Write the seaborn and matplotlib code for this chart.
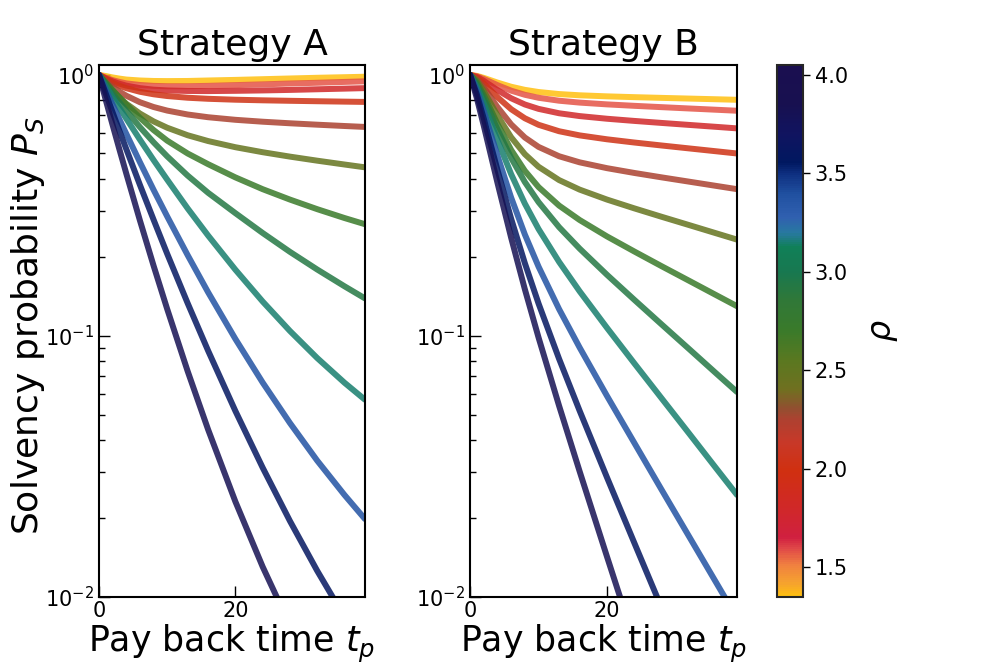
import numpy as np
import pandas as pd
import matplotlib
matplotlib.use('Agg')
import matplotlib.pyplot as plt
from matplotlib.colors import LinearSegmentedColormap, Normalize
from matplotlib.cm import ScalarMappable
import seaborn as sns

sns.set_style('ticks', {'xtick.direction': 'in', 'ytick.direction': 'in'})
plt.rcParams['font.family'] = ['DejaVu Sans']
for k in ['text.color', 'axes.labelcolor', 'xtick.color', 'ytick.color']:
    plt.rcParams[k] = 'black'

# ── data ─────────────────────────────────────────────────────────────────────
t_grid = [0, 1, 2, 3, 4, 6, 8, 10, 13, 16, 20, 24, 28, 32, 36, 39]
rho_vals = [1.35, 1.575, 1.8, 2.025, 2.25, 2.475, 2.7, 2.925, 3.15, 3.375, 3.6, 3.825]

ps_a = [
    [1.0, 0.99, 0.978, 0.968, 0.96, 0.952, 0.948, 0.947, 0.948, 0.952, 0.957, 0.963, 0.969, 0.975, 0.98, 0.984],
    [1.0, 0.975, 0.955, 0.94, 0.928, 0.915, 0.908, 0.905, 0.905, 0.908, 0.914, 0.92, 0.927, 0.933, 0.94, 0.945],
    [1.0, 0.97, 0.945, 0.925, 0.91, 0.89, 0.878, 0.872, 0.868, 0.867, 0.869, 0.872, 0.876, 0.881, 0.886, 0.89],
    [1.0, 0.9626, 0.9329, 0.909, 0.8897, 0.8618, 0.8429, 0.83, 0.8176, 0.81, 0.8035, 0.7992, 0.7958, 0.7928, 0.79, 0.788],
    [1.0, 0.9444, 0.8994, 0.8625, 0.8324, 0.786, 0.7535, 0.73, 0.7053, 0.6885, 0.673, 0.6618, 0.6527, 0.6446, 0.6372, 0.632],
    [1.0, 0.927, 0.8675, 0.818, 0.776, 0.7113, 0.6638, 0.6276, 0.5873, 0.558, 0.5285, 0.5057, 0.4864, 0.4693, 0.4537, 0.4426],
    [1.0, 0.935, 0.875, 0.82, 0.77, 0.685, 0.615, 0.56, 0.50, 0.455, 0.405, 0.365, 0.333, 0.306, 0.283, 0.268],
    [1.0, 0.92, 0.849, 0.785, 0.728, 0.631, 0.552, 0.4875, 0.4115, 0.3535, 0.2954, 0.248, 0.21, 0.1797, 0.155, 0.1393],
    [1.0, 0.906, 0.822, 0.747, 0.68, 0.565, 0.472, 0.397, 0.308, 0.2425, 0.1794, 0.1355, 0.1045, 0.0823, 0.0662, 0.057],
    [1.0, 0.876, 0.769, 0.675, 0.595, 0.463, 0.363, 0.287, 0.204, 0.147, 0.0974, 0.0663, 0.0464, 0.0333, 0.0246, 0.0199],
    [1.0, 0.847, 0.718, 0.61, 0.52, 0.379, 0.279, 0.2064, 0.1335, 0.0878, 0.0516, 0.0313, 0.01955, 0.0126, 0.00838, 0.0063],
    [1.0, 0.80, 0.642, 0.5176, 0.419, 0.277, 0.186, 0.1268, 0.0733, 0.0438, 0.0232, 0.01306, 0.00779, 0.00493, 0.0033, 0.00255],
]

ps_b = [
    [1.0, 0.9914, 0.9742, 0.9542, 0.9345, 0.9009, 0.8766, 0.86, 0.8446, 0.8355, 0.8277, 0.8218, 0.8166, 0.8116, 0.8067, 0.8029],
    [1.0, 0.9881, 0.9653, 0.9392, 0.9137, 0.8703, 0.8391, 0.8173, 0.7964, 0.7833, 0.7711, 0.7613, 0.7524, 0.7437, 0.7353, 0.729],
    [1.0, 0.9823, 0.9489, 0.9111, 0.8744, 0.8137, 0.7704, 0.7411, 0.713, 0.6955, 0.6793, 0.6664, 0.6546, 0.6433, 0.6323, 0.624],
    [1.0, 0.9741, 0.926, 0.8721, 0.8214, 0.7389, 0.6821, 0.644, 0.6085, 0.5866, 0.5667, 0.5508, 0.5365, 0.5229, 0.5097, 0.50],
    [1.0, 0.9627, 0.8948, 0.8208, 0.7527, 0.6462, 0.5757, 0.5299, 0.488, 0.4625, 0.4393, 0.4211, 0.405, 0.39, 0.3755, 0.365],
    [1.0, 0.95, 0.8662, 0.7781, 0.6985, 0.5767, 0.497, 0.4447, 0.3955, 0.3636, 0.333, 0.3081, 0.286, 0.2659, 0.2471, 0.2339],
    [1.0, 0.9349, 0.8367, 0.737, 0.6486, 0.5157, 0.4291, 0.3718, 0.3158, 0.2781, 0.2406, 0.2106, 0.1849, 0.1627, 0.1431, 0.13],
    [1.0, 0.9188, 0.8127, 0.7088, 0.6181, 0.4805, 0.3886, 0.3256, 0.2611, 0.2161, 0.1715, 0.1375, 0.1106, 0.0891, 0.0717, 0.061],
    [1.0, 0.8975, 0.7751, 0.6603, 0.5619, 0.4165, 0.3213, 0.2568, 0.1922, 0.1483, 0.1074, 0.0785, 0.0576, 0.0423, 0.031, 0.0246],
    [1.0, 0.8713, 0.727, 0.5971, 0.49, 0.3386, 0.2447, 0.1843, 0.1267, 0.0903, 0.0589, 0.0389, 0.0257, 0.01704, 0.0113, 0.0083],
    [1.0, 0.8402, 0.6796, 0.5421, 0.4321, 0.281, 0.19, 0.1331, 0.0817, 0.0517, 0.0287, 0.0161, 0.00906, 0.0051, 0.00287, 0.00187],
    [1.0, 0.8108, 0.6376, 0.4961, 0.3857, 0.2375, 0.1509, 0.0986, 0.054, 0.0303, 0.01427, 0.00677, 0.00322, 0.00153, 0.00073, 0.00042],
]

titles = ['Strategy A', 'Strategy B']
cbar_ticks = [1.5, 2.0, 2.5, 3.0, 3.5, 4.0]
rho_min, rho_max = 1.35, 4.05

# colour map (value -> colour)
cmap_stops = [(1.35, '#FFC010'), (1.42, '#F5A030'), (1.51, '#F08040'), (1.59, '#E04848'),
              (1.65, '#D02040'), (1.80, '#D02828'), (1.99, '#D03010'), (2.13, '#C83828'),
              (2.24, '#B04030'), (2.31, '#905030'), (2.40, '#707020'), (2.55, '#5A7820'),
              (2.70, '#3A7A2A'), (2.86, '#307838'), (3.00, '#187850'), (3.13, '#108058'),
              (3.20, '#2878A0'), (3.28, '#3060B0'), (3.40, '#2050A0'), (3.50, '#0E2F80'),
              (3.56, '#001860'), (3.70, '#101460'), (3.86, '#181050'), (4.05, '#1A0F50')]

cmap = LinearSegmentedColormap.from_list(
    'rho', [((v - rho_min) / (rho_max - rho_min), c) for v, c in cmap_stops])
norm = Normalize(rho_min, rho_max)


def to_long(ps):
    rows = []
    for rho, curve in zip(rho_vals, ps):
        for t, p in zip(t_grid, curve):
            rows.append((t, p, rho))
    return pd.DataFrame(rows, columns=['t', 'P', 'rho'])


fig = plt.figure(figsize=(9.96, 6.64), dpi=100)
ax_a = fig.add_axes([0.0994, 0.1009, 0.267, 0.801])
ax_b = fig.add_axes([0.472, 0.1009, 0.268, 0.801])
cax = fig.add_axes([0.780, 0.1009, 0.026, 0.801])

for ax, ps, title in zip([ax_a, ax_b], [ps_a, ps_b], titles):
    sns.lineplot(data=to_long(ps), x='t', y='P', hue='rho', palette=cmap, hue_norm=norm,
                 linewidth=4.3, alpha=0.85, legend=False, ax=ax)
    ax.set_yscale('log')
    ax.set_ylim(0.01, 1.09)
    ax.set_xlim(0, 39)
    ax.set_xticks([0, 20])
    ax.set_title(title, fontsize=26, pad=7)
    ax.set_xlabel(r'Pay back time $t_p$', fontsize=25, labelpad=1)
    ax.set_ylabel('')
    ax.tick_params(which='both', direction='in', labelsize=15, top=False, right=False)
    ax.tick_params(which='major', length=8, width=1)
    ax.tick_params(which='minor', length=4, width=1)
    ax.tick_params(axis='x', pad=3)
    for sp in ax.spines.values():
        sp.set_visible(True)
        sp.set_linewidth(1.5)
        sp.set_color('black')

ax_a.set_ylabel(r'Solvency probability $P_S$', fontsize=26)
ax_a.yaxis.set_label_coords(-0.195, 0.51)

cb = fig.colorbar(ScalarMappable(norm=norm, cmap=cmap), cax=cax)
cb.set_ticks(cbar_ticks)
cb.ax.tick_params(labelsize=15, direction='out', length=5, width=1)
cb.outline.set_linewidth(1.5)
cb.set_label(r'$\rho$', fontsize=24, labelpad=14)

fig.savefig('out.png', dpi=100)
